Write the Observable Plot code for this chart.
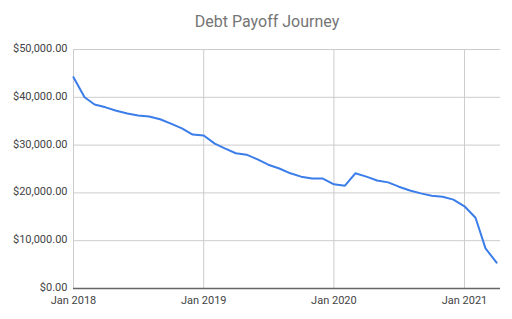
<!DOCTYPE html>
<html><head><meta charset="utf-8">
<script src="https://cdn.jsdelivr.net/npm/d3@7"></script>
<script src="https://cdn.jsdelivr.net/npm/@observablehq/plot@0.6"></script>
<style>
body{margin:0;background:#fff;font-family:Roboto,"Noto Sans",sans-serif;}
#title{height:40px;line-height:44px;font-size:16px;color:#757575;text-align:center;padding-left:22px;box-sizing:border-box;width:512px;}
</style></head><body>
<div id="title">Debt Payoff Journey</div>
<div id="chart"></div>
<script>
const months = ["2018-01","2018-02","2018-03","2018-04","2018-05","2018-06","2018-07","2018-08","2018-09","2018-10","2018-11","2018-12",
"2019-01","2019-02","2019-03","2019-04","2019-05","2019-06","2019-07","2019-08","2019-09","2019-10","2019-11","2019-12",
"2020-01","2020-02","2020-03","2020-04","2020-05","2020-06","2020-07","2020-08","2020-09","2020-10","2020-11","2020-12",
"2021-01","2021-02","2021-03","2021-04"];
const balances = [44200,40000,38500,37900,37200,36600,36200,36000,35400,34500,33500,32200,
32000,30300,29300,28300,28000,27000,25900,25100,24100,23400,23000,23000,
21800,21500,24100,23400,22600,22200,21300,20500,19900,19400,19200,18600,
17200,14800,8400,5400];
const yTicks = [0,10000,20000,30000,40000,50000];
const xTickDates = ["2018-01","2019-01","2020-01","2021-01"];

const data = months.map((m,i)=>({date:new Date(m+"-01T00:00:00"), value:balances[i]}));
const xTicks = xTickDates.map(m=>new Date(m+"-01T00:00:00"));
const fmtMoney = v => "$" + d3.format(",.2f")(v);
const fmtDate = d3.timeFormat("%b %Y");

const chart = Plot.plot({
  width:512, height:279,
  marginTop:9, marginBottom:31, marginLeft:73, marginRight:12,
  style:{fontFamily:"Roboto, 'Noto Sans', sans-serif", fontSize:"11px", color:"#444", background:"#fff"},
  x:{type:"time", domain:[new Date("2018-01-01T00:00:00"), new Date("2021-04-12T00:00:00")], label:null},
  y:{domain:[0,50000], label:null},
  marks:[
    Plot.gridY(yTicks,{stroke:"#cccccc", strokeOpacity:1}),
    Plot.gridX(xTicks,{stroke:"#cccccc", strokeOpacity:1}),
    Plot.ruleY([0],{stroke:"#666", strokeWidth:1.3}),
    Plot.axisY(yTicks,{tickFormat:fmtMoney, tickSize:0, tickPadding:6, dy:-1, fill:"#444", label:null}),
    Plot.axisX(xTicks,{tickFormat:fmtDate, tickSize:0, tickPadding:8, fill:"#444", label:null}),
    Plot.line(data,{x:"date", y:"value", stroke:"#3b7de9", strokeWidth:2})
  ]
});
document.getElementById("chart").appendChild(chart);
</script>
</body></html>
